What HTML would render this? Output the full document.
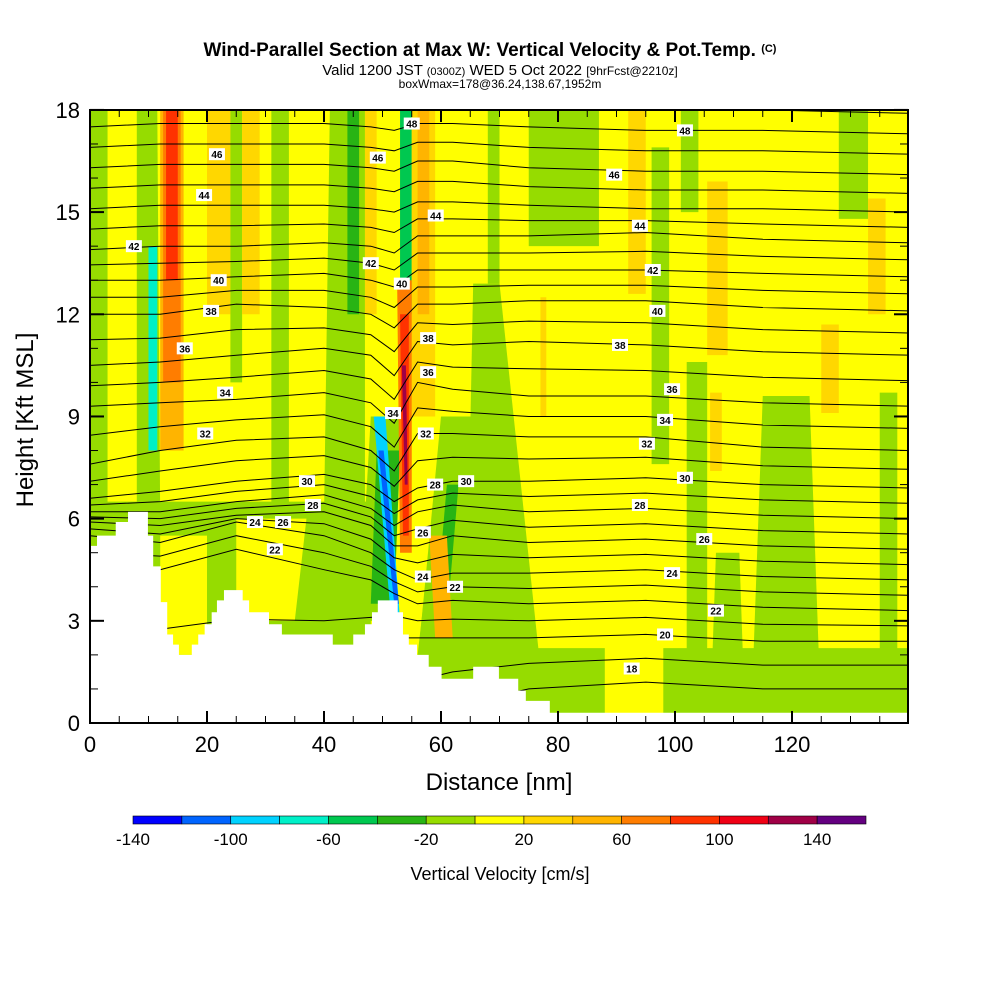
<!DOCTYPE html>
<html><head><meta charset="utf-8">
<style>
body{margin:0;background:#fff;width:1000px;height:1000px;overflow:hidden;font-family:"Liberation Sans",sans-serif;}
svg text{font-family:"Liberation Sans",sans-serif;}
</style></head>
<body>
<svg id="chart" width="1000" height="1000" viewBox="0 0 1000 1000" xmlns="http://www.w3.org/2000/svg">
<rect width="1000" height="1000" fill="#fff"/>
<text x="490" y="56" text-anchor="middle" font-size="19" font-weight="bold">Wind-Parallel Section at Max W: Vertical Velocity &amp; Pot.Temp. <tspan font-size="11" dy="-4">(C)</tspan></text>
<text x="500" y="75" text-anchor="middle" font-size="15">Valid 1200 JST <tspan font-size="11">(0300Z)</tspan> WED 5 Oct 2022 <tspan font-size="12">[9hrFcst@2210z]</tspan></text>
<text x="500" y="88" text-anchor="middle" font-size="12">boxWmax=178@36.24,138.67,1952m</text>
<clipPath id="plotclip"><rect x="90" y="110" width="818" height="613"/></clipPath>
<g id="plot" clip-path="url(#plotclip)"></g>
<g id="axes"></g>
<g id="cbar"></g>
<text x="499" y="790" text-anchor="middle" font-size="24">Distance [nm]</text>
<text transform="translate(33,420) rotate(-90)" text-anchor="middle" font-size="24">Height [Kft MSL]</text>
<text x="500" y="880" text-anchor="middle" font-size="18">Vertical Velocity [cm/s]</text>
</svg>
<script>
const colors=["#0000ff","#0064ff","#00d2ff","#00f0c8","#00c850","#28b414","#96dc00","#ffff00","#ffd700","#ffb400","#ff7d00","#ff3200","#f00014","#a00046","#640080"];
const cbarTicks=["-140","-100","-60","-20","20","60","100","140"];
// velocity features: [xb0,xb1,zb,xt0,xt1,zt,colorIndex]
const features=[
[0,48,0,0,48,6.5,6],[12,20,2,12,20,5.5,7],[25,35,3,25,37,6,7],
[55,64,0,60,66,9,6],[75,140,0,75,140,2.2,6],[88,98,0,88,98,2.3,7],[116,119,0,116,119,2.5,7],
[64,78,0,65.5,70,12.9,6],[68,70,12.9,68,70,18,6],
[75,87,14,75,87,18,6],[96,99,7.6,96,99,16.9,6],[102,105.5,2,102,105.5,10.6,6],[101,104,15,101,104,18,6],
[128,133,14.8,128,133,18,6],[135,138,0,135,138,9.7,6],[113,125,0,115,123,9.6,6],[106,112,0,107,111,5,6],
[0,3,6,0,3,18,6],[8,10,6,8,10,18,6],[9,12,6,9.5,11.5,18,6],[10,11.5,8,10,11.5,14,3],
[12,16,8,12,16,18,9],[12.5,15.5,10,12.5,15.5,18,10],[13,15,13,13,15,18,11],
[20,24,12,20,24,18,8],[24,26,10,24,26,18,6],[26,29,12,26,29,18,8],[31,34,6,31,34,18,6],
[40,47,6,41,47,18,6],[44,46,12,44,46,18,5],[47,49,12,47,49,18,8],
[46,52,3,48,53,9,6],[48,52,3.5,49,53,8,5],[53,55,12,53,55,18,4],
[55,59,9,55,59,18,8],[56,58,12,56,58,18,9],
[56,62,2,60,66,8,6],[59,61,3,61,63,7,5],[59,62,2.5,58,61,5.5,9],
[51.5,53,3,48.5,50.5,9,2],[52,52.8,3.5,49.3,50.2,8,1],
[53,55,5,52.5,55,13,10],[53.5,54.5,5.5,53,54.5,12,11],[53.8,54.3,7,53.3,54,10.5,13],
[92,95,12.6,92,95,18,8],[105.5,109,10.8,105.5,109,15.9,8],[133,136,12,133,136,15.4,8],[125,128,9.1,125,128,11.7,8],[106,108,7.4,106,108,9.7,8],[77,78,9,77,78,12.5,8]
];
// potential temperature contours
const contourX=[0,12,25,40,48,52,56,62,75,95,115,140];
const thetaLevels=[18,20,22,24,26,28,30,32,34,36,38,40,42,44,46,48];
const thetaZ=[
[0,0,0,0,0,0,0,0.5,1.0,1.2,1.0,1.0],
[1,1,1,1.5,2,2.5,2.5,2.5,2.5,2.6,2.4,2.4],
[4.5,4.5,5.1,4.5,4.2,3.8,3.5,3.6,3.5,3.6,3.4,3.3],
[5.5,5.3,5.9,5.5,5,4.5,4.2,4.4,4.4,4.5,4.3,4.2],
[5.9,5.8,6.1,6.2,5.8,5.2,5.2,5.5,5.3,5.4,5.2,5.1],
[6.2,6.2,6.5,6.7,6.3,5.8,6.2,6.4,6.2,6.3,6.1,6.0],
[6.6,6.8,7.1,7.3,7.0,6.5,6.9,7.1,7.1,7.2,7.0,6.9],
[7.6,8.0,8.3,8.4,8.0,7.4,8.5,8.5,8.4,8.4,8.1,8.0],
[9.3,9.4,9.5,9.7,9.4,8.8,10.0,9.8,9.6,9.6,9.4,9.3],
[10.5,10.6,10.8,11.0,10.8,10.2,11.2,11.1,11.2,11.1,10.9,10.8],
[12.0,12.0,12.3,12.2,12.0,11.6,12.3,12.3,12.4,12.4,12.2,12.1],
[13.0,13.0,13.1,13.2,13.0,12.8,13.3,13.3,13.3,13.3,13.2,13.1],
[13.9,14.0,14.0,14.1,14.0,13.8,14.3,14.3,14.3,14.4,14.2,14.1],
[15.1,15.2,15.2,15.2,15.1,15.0,15.3,15.3,15.2,15.1,15.1,15.0],
[16.3,16.4,16.4,16.4,16.3,16.2,16.5,16.5,16.3,16.2,16.2,16.1],
[17.5,17.6,17.6,17.6,17.5,17.4,17.6,17.6,17.5,17.4,17.4,17.3]
];
const labelPos=[[55,17.6,"48"],[101.7,17.4,"48"],[21.7,16.7,"46"],[49.2,16.6,"46"],[89.6,16.1,"46"],[19.5,15.5,"44"],[59.1,14.9,"44"],[94,14.6,"44"],[7.5,14.0,"42"],[48,13.5,"42"],[96.2,13.3,"42"],[22,13.0,"40"],[53.3,12.9,"40"],[97,12.1,"40"],[20.7,12.1,"38"],[57.8,11.3,"38"],[90.6,11.1,"38"],[16.2,11.0,"36"],[57.8,10.3,"36"],[99.5,9.8,"36"],[23.1,9.7,"34"],[51.8,9.1,"34"],[98.3,8.9,"34"],[19.7,8.5,"32"],[57.4,8.5,"32"],[95.2,8.2,"32"],[37.1,7.1,"30"],[64.3,7.1,"30"],[101.7,7.2,"30"],[38.1,6.4,"28"],[59,7.0,"28"],[94,6.4,"28"],[33,5.9,"26"],[56.9,5.6,"26"],[105,5.4,"26"],[28.2,5.9,"24"],[56.9,4.3,"24"],[99.5,4.4,"24"],[31.6,5.1,"22"],[62.4,4.0,"22"],[107,3.3,"22"],[98.3,2.6,"20"],[92.6,1.6,"18"]];
const terrain=[[0,5.2],[1.2,5.2],[1.2,5.5],[4.4,5.5],[4.4,5.9],[6.5,5.9],[6.5,6.2],[9.9,6.2],[9.9,5.5],[10.8,5.5],[10.8,4.6],[12.1,4.6],[12.1,3.55],[13.2,3.55],[13.2,2.6],[14.2,2.6],[14.2,2.3],[15.2,2.3],[15.2,2.0],[17.4,2.0],[17.4,2.3],[18.5,2.3],[18.5,2.6],[19.6,2.6],[19.6,2.9],[20.8,2.9],[20.8,3.25],[21.7,3.25],[21.7,3.6],[22.9,3.6],[22.9,3.9],[26.1,3.9],[26.1,3.6],[27.2,3.6],[27.2,3.25],[30.6,3.25],[30.6,2.9],[32.8,2.9],[32.8,2.6],[41.5,2.6],[41.5,2.3],[45,2.3],[45,2.6],[47,2.6],[47,2.9],[48.2,2.9],[48.2,3.25],[49.2,3.25],[49.2,3.6],[52.6,3.6],[52.6,3.25],[53.5,3.25],[53.5,2.6],[54.5,2.6],[54.5,2.3],[55.9,2.3],[55.9,2.0],[57.9,2.0],[57.9,1.65],[60.1,1.65],[60.1,1.3],[65.5,1.3],[65.5,1.65],[69.9,1.65],[69.9,1.3],[73.2,1.3],[73.2,0.95],[74.5,0.95],[74.5,0.65],[78.6,0.65],[78.6,0.3],[140,0.3],[140,0],[0,0]];
const NS="http://www.w3.org/2000/svg";
const X=nm=>90+nm*5.85, Y=k=>723-k*34.06;
function mk(tag,attrs,parent){const e=document.createElementNS(NS,tag);for(const k in attrs)e.setAttribute(k,attrs[k]);parent.appendChild(e);return e;}
const plot=document.getElementById('plot');
const bg=mk('rect',{x:90,y:110,width:818,height:613,fill:colors[7]},plot);


features.forEach(f=>{
 const p=mk('polygon',{points:`${X(f[0])},${Y(f[2])} ${X(f[1])},${Y(f[2])} ${X(f[4])},${Y(f[5])} ${X(f[3])},${Y(f[5])}`,fill:colors[f[6]]},plot);
 
 
});
function drawLine(zs){let d='';contourX.forEach((x,i)=>{d+=(i?'L':'M')+X(x).toFixed(1)+','+Y(zs[i]).toFixed(1);});
 const l=mk('path',{d:d,fill:'none',stroke:'#000','stroke-width':1},plot);
 
 }
thetaZ.forEach((zs,i)=>{drawLine(zs);
 if(i<thetaZ.length-1){const n=thetaZ[i+1];drawLine(zs.map((z,j)=>(z+n[j])/2));}});
drawLine(thetaZ[thetaZ.length-1].map(z=>z+0.6));
labelPos.forEach(l=>{
 const g=mk('g',{},plot);
 
 
 mk('rect',{x:X(l[0])-8,y:Y(l[1])-6,width:16,height:12,fill:'#fff'},g);
 const t=mk('text',{x:X(l[0]),y:Y(l[1])+4,'text-anchor':'middle','font-size':10,'font-weight':'bold'},g);t.textContent=l[2];
});
const tr=mk('polygon',{points:terrain.map(p=>X(p[0])+','+Y(p[1])).join(' '),fill:'#fff'},plot);


const ax=document.getElementById('axes');
const fr=mk('rect',{x:90,y:110,width:818,height:613,fill:'none',stroke:'#000','stroke-width':2},ax);


for(let v=0;v<=135;v+=5){const big=v%20===0,L=big?12:7;
 mk('line',{x1:X(v),x2:X(v),y1:723,y2:723-L,stroke:'#000','stroke-width':big?2:1},ax);
 mk('line',{x1:X(v),x2:X(v),y1:110,y2:110+L,stroke:'#000','stroke-width':big?2:1},ax);
 if(big){const t=mk('text',{x:X(v),y:752,'text-anchor':'middle','font-size':22},ax);
 
 
 t.textContent=v;}}
for(let v=0;v<=18;v++){const big=v%3===0,L=big?14:8;
 mk('line',{x1:90,x2:90+L,y1:Y(v),y2:Y(v),stroke:'#000','stroke-width':big?2:1},ax);
 mk('line',{x1:908,x2:908-L,y1:Y(v),y2:Y(v),stroke:'#000','stroke-width':big?2:1},ax);
 if(big){const t=mk('text',{x:80,y:Y(v)+8,'text-anchor':'end','font-size':22},ax);
 
 
 t.textContent=v;}}
const cb=document.getElementById('cbar');


const cw=(866-133)/colors.length;
colors.forEach((c,i)=>{const r=mk('rect',{x:133+i*cw,y:816,width:cw,height:8,fill:c,stroke:'#000','stroke-width':0.6},cb);
 
 });
cbarTicks.forEach((s,i)=>{const t=mk('text',{x:133+i*2*cw,y:845,'text-anchor':'middle','font-size':17},cb);
 
 
 t.textContent=s;});
</script>
</body></html>
